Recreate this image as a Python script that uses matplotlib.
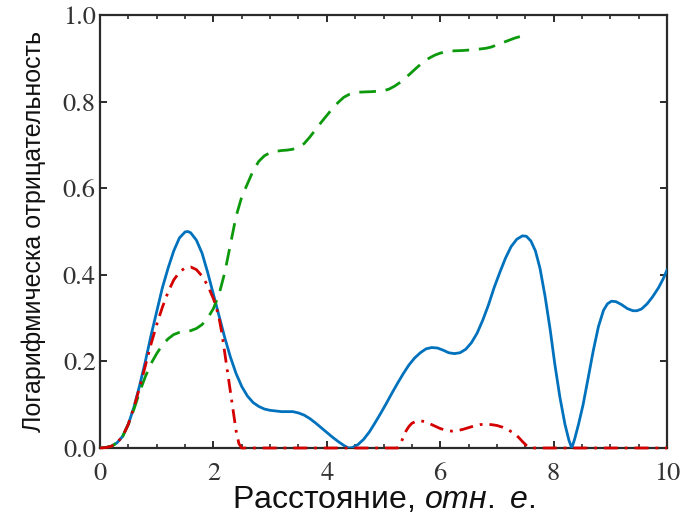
import matplotlib
matplotlib.use('Agg')
import matplotlib.pyplot as plt
import matplotlib.ticker as ticker

# --- данные (считаны по точкам) ---
x_blue = [0.0, 0.1, 0.2, 0.3, 0.4, 0.5, 0.6, 0.7, 0.8, 0.9, 1.0, 1.1, 1.2, 1.3, 1.4, 1.5,
          1.55, 1.6, 1.7, 1.8, 1.9, 2.0, 2.1, 2.2, 2.3, 2.4, 2.5, 2.6, 2.7, 2.8, 2.9, 3.0,
          3.2, 3.4, 3.5, 3.6, 3.7, 3.8, 3.9, 4.0, 4.1, 4.2, 4.3, 4.38, 4.45, 4.55, 4.65,
          4.75, 4.85, 4.95, 5.05, 5.15, 5.25, 5.35, 5.45, 5.55, 5.65, 5.75, 5.85, 5.95,
          6.05, 6.15, 6.25, 6.35, 6.45, 6.55, 6.65, 6.75, 6.85, 6.95, 7.05, 7.15, 7.25,
          7.35, 7.45, 7.52, 7.6, 7.68, 7.76, 7.85, 7.94, 8.02, 8.11, 8.2, 8.27, 8.32, 8.37,
          8.44, 8.52, 8.6, 8.7, 8.79, 8.88, 8.95, 9.02, 9.1, 9.2, 9.3, 9.4, 9.47, 9.55,
          9.65, 9.75, 9.85, 9.93, 10.0]
y_blue = [0.0, 0.001, 0.004, 0.012, 0.027, 0.055, 0.095, 0.145, 0.2, 0.26, 0.315, 0.37,
          0.415, 0.455, 0.485, 0.499, 0.5, 0.497, 0.48, 0.45, 0.405, 0.355, 0.305, 0.255,
          0.21, 0.172, 0.142, 0.12, 0.105, 0.096, 0.09, 0.087, 0.084, 0.084, 0.081, 0.076,
          0.068, 0.058, 0.047, 0.036, 0.025, 0.015, 0.006, 0.0, 0.001, 0.008, 0.02, 0.037,
          0.058, 0.08, 0.103, 0.127, 0.15, 0.172, 0.192, 0.208, 0.22, 0.229, 0.232, 0.231,
          0.226, 0.22, 0.218, 0.22, 0.228, 0.243, 0.265, 0.295, 0.33, 0.37, 0.405, 0.438,
          0.465, 0.482, 0.49, 0.489, 0.478, 0.455, 0.415, 0.35, 0.273, 0.195, 0.118, 0.055,
          0.018, 0.0, 0.02, 0.055, 0.1, 0.155, 0.225, 0.28, 0.318, 0.333, 0.339, 0.338,
          0.331, 0.322, 0.317, 0.317, 0.321, 0.333, 0.35, 0.37, 0.39, 0.411]

x_red = [0.0, 0.1, 0.2, 0.3, 0.4, 0.5, 0.6, 0.7, 0.8, 0.9, 1.0, 1.1, 1.2, 1.3, 1.4, 1.5,
         1.6, 1.7, 1.8, 1.9, 2.0, 2.05, 2.1, 2.15, 2.2, 2.25, 2.3, 2.35, 2.4, 2.45, 2.5,
         5.25, 5.3, 5.35, 5.4, 5.45, 5.5, 5.58, 5.65, 5.72, 5.8, 5.9, 6.0, 6.1, 6.2, 6.3,
         6.4, 6.5, 6.6, 6.7, 6.8, 6.9, 7.0, 7.1, 7.2, 7.3, 7.38, 7.45, 7.52, 7.58, 10.0]
y_red = [0.0, 0.001, 0.004, 0.012, 0.027, 0.055, 0.095, 0.14, 0.19, 0.24, 0.285, 0.325,
         0.36, 0.388, 0.406, 0.416, 0.418, 0.412, 0.397, 0.375, 0.345, 0.325, 0.3, 0.265,
         0.22, 0.175, 0.13, 0.085, 0.04, 0.01, 0.0,
         0.0, 0.01, 0.025, 0.04, 0.05, 0.057, 0.062, 0.063, 0.061, 0.057, 0.051, 0.045,
         0.041, 0.039, 0.04, 0.043, 0.047, 0.051, 0.054, 0.055, 0.054, 0.052, 0.048, 0.042,
         0.034, 0.025, 0.015, 0.006, 0.0, 0.0]

x_green = [0.0, 0.1, 0.2, 0.3, 0.4, 0.5, 0.6, 0.7, 0.8, 0.9, 1.0, 1.1, 1.2, 1.3, 1.4, 1.5,
           1.6, 1.7, 1.8, 1.9, 2.0, 2.1, 2.2, 2.3, 2.4, 2.5, 2.6, 2.7, 2.8, 2.9, 3.0, 3.1,
           3.2, 3.3, 3.4, 3.5, 3.6, 3.7, 3.8, 3.9, 4.0, 4.1, 4.2, 4.3, 4.4, 4.5, 4.6, 4.8,
           5.0, 5.1, 5.2, 5.3, 5.4, 5.5, 5.6, 5.7, 5.8, 5.9, 6.0, 6.1, 6.2, 6.4, 6.6, 6.8,
           6.9, 7.0, 7.1, 7.2, 7.3, 7.4, 7.5]
y_green = [0.0, 0.001, 0.004, 0.012, 0.027, 0.055, 0.09, 0.13, 0.165, 0.195, 0.218, 0.238,
           0.252, 0.262, 0.267, 0.269, 0.271, 0.276, 0.285, 0.3, 0.322, 0.355, 0.405, 0.47,
           0.535, 0.58, 0.61, 0.64, 0.662, 0.675, 0.682, 0.685, 0.687, 0.688, 0.69, 0.695,
           0.703, 0.718, 0.735, 0.752, 0.768, 0.784, 0.798, 0.81, 0.817, 0.821, 0.822,
           0.823, 0.825, 0.829, 0.836, 0.845, 0.856, 0.868, 0.88, 0.891, 0.9, 0.907, 0.912,
           0.915, 0.917, 0.918, 0.92, 0.923, 0.926, 0.931, 0.936, 0.941, 0.946, 0.95, 0.954]

x_ticks = [0, 2, 4, 6, 8, 10]
y_ticks = [0.0, 0.2, 0.4, 0.6, 0.8, 1.0]

plt.rcParams['mathtext.fontset'] = 'custom'
plt.rcParams['mathtext.it'] = 'Liberation Sans:italic'
plt.rcParams['mathtext.rm'] = 'Liberation Sans'

axis_color = '#2b2b2b'

fig = plt.figure(figsize=(6.81, 5.17), dpi=100)
ax = fig.add_axes([100 / 681, 69 / 517, 567 / 681, 433 / 517])

ax.plot(x_blue, y_blue, color='#0072BD', lw=2.0, zorder=3)
ax.plot(x_green, y_green, color='#0c9a0c', lw=2.0, ls=(0, (6, 3.5)), zorder=3)
ax.plot(x_red, y_red, color='#d40000', lw=2.0, ls=(0, (5, 2.5, 1, 2.5)), zorder=4,
        clip_on=False)

ax.set_xlim(0, 10)
ax.set_ylim(0, 1)

ax.xaxis.set_major_locator(ticker.FixedLocator(x_ticks))
ax.xaxis.set_minor_locator(ticker.MultipleLocator(0.5))
ax.yaxis.set_major_locator(ticker.FixedLocator(y_ticks))
ax.set_xticklabels([f'{v:g}' for v in x_ticks])
ax.set_yticklabels([f'{v:.1f}' for v in y_ticks])

for s in ax.spines.values():
    s.set_linewidth(1.6)
    s.set_color(axis_color)

ax.tick_params(axis='both', which='both', direction='in', top=True, right=True,
               color=axis_color, labelcolor='#333333')
ax.tick_params(axis='both', which='major', length=5, width=1.4)
ax.tick_params(axis='both', which='minor', length=3, width=1.2)
ax.tick_params(axis='x', which='major', pad=10)
ax.tick_params(axis='y', which='major', pad=3)
for lab in ax.get_xticklabels() + ax.get_yticklabels():
    lab.set_family('STIXGeneral')
    lab.set_fontsize(19)

# курсивная часть подписи оси x; пробел между словами вне mathtext
ax.set_xlabel('Расстояние, $\\mathit{отн.}$ $\\mathit{е.}$', family='Liberation Sans',
              fontsize=23, color='#111111', labelpad=-1)
ax.set_ylabel('Логарифмическа отрицательность', family='Liberation Sans',
              fontsize=18, color='#111111', labelpad=12)

fig.savefig('out.png', dpi=100)
